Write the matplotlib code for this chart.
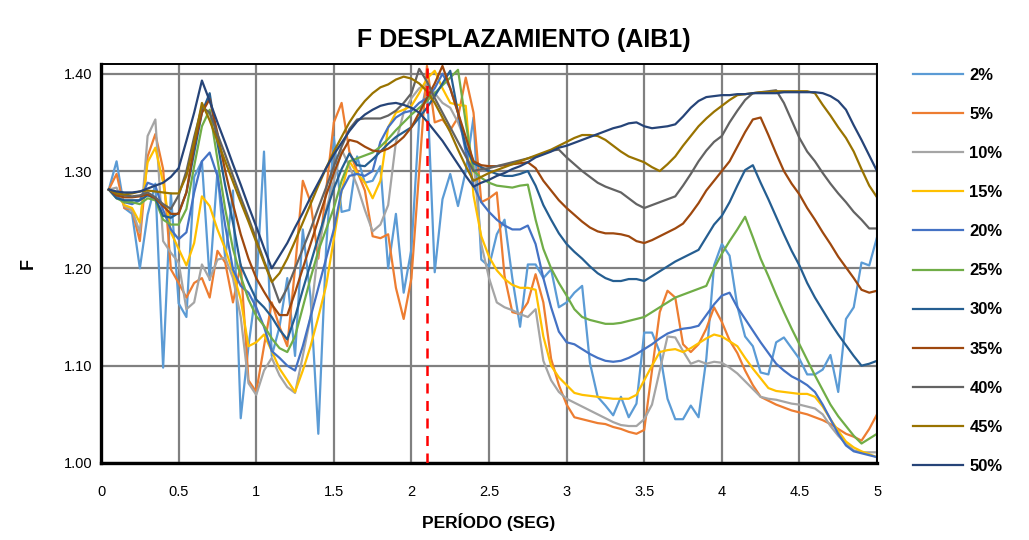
import matplotlib
matplotlib.use("Agg")
import matplotlib.pyplot as plt
import numpy as np

# periodos (seg) del espectro
periodo = np.round(np.arange(0.05, 5.0001, 0.05), 2)

f_2 = [1.281, 1.310, 1.262, 1.256, 1.200, 1.255, 1.287, 1.098, 1.277, 1.164, 1.150, 1.294, 1.310, 1.188, 1.300, 1.210, 1.280, 1.046, 1.120, 1.180,
       1.320, 1.110, 1.140, 1.190, 1.110, 1.240, 1.170, 1.030, 1.220, 1.335, 1.258, 1.260, 1.315, 1.288, 1.290, 1.305, 1.200, 1.256, 1.175, 1.220,
       1.353, 1.390, 1.196, 1.271, 1.297, 1.264, 1.300, 1.355, 1.209, 1.202, 1.235, 1.250, 1.190, 1.140, 1.204, 1.204, 1.190, 1.199, 1.160, 1.165,
       1.175, 1.182, 1.103, 1.068, 1.059, 1.049, 1.068, 1.047, 1.061, 1.134, 1.134, 1.114, 1.066, 1.045, 1.045, 1.059, 1.047, 1.107, 1.203, 1.225,
       1.213, 1.161, 1.130, 1.120, 1.093, 1.091, 1.124, 1.129, 1.118, 1.107, 1.091, 1.091, 1.096, 1.111, 1.073, 1.148, 1.160, 1.206, 1.203, 1.232]
f_5 = [1.281, 1.297, 1.262, 1.260, 1.228, 1.315, 1.338, 1.302, 1.199, 1.185, 1.170, 1.185, 1.190, 1.170, 1.218, 1.206, 1.165, 1.204, 1.085, 1.073,
       1.120, 1.165, 1.140, 1.120, 1.200, 1.290, 1.268, 1.210, 1.280, 1.350, 1.370, 1.320, 1.300, 1.280, 1.233, 1.231, 1.235, 1.180, 1.148, 1.190,
       1.300, 1.408, 1.350, 1.353, 1.342, 1.355, 1.396, 1.360, 1.268, 1.272, 1.278, 1.192, 1.155, 1.153, 1.165, 1.194, 1.165, 1.107, 1.080, 1.060,
       1.047, 1.045, 1.043, 1.041, 1.040, 1.037, 1.035, 1.032, 1.030, 1.034, 1.095, 1.155, 1.177, 1.170, 1.122, 1.114, 1.122, 1.138, 1.160, 1.145,
       1.126, 1.113, 1.095, 1.080, 1.068, 1.064, 1.060, 1.057, 1.054, 1.052, 1.050, 1.047, 1.044, 1.040, 1.035, 1.030, 1.027, 1.023, 1.035, 1.050]
f_10 = [1.281, 1.283, 1.264, 1.260, 1.237, 1.336, 1.353, 1.228, 1.216, 1.206, 1.158, 1.165, 1.204, 1.189, 1.209, 1.211, 1.190, 1.150, 1.082, 1.070,
        1.095, 1.108, 1.090, 1.078, 1.072, 1.110, 1.150, 1.220, 1.260, 1.290, 1.322, 1.305, 1.285, 1.260, 1.238, 1.245, 1.265, 1.330, 1.360, 1.375,
        1.385, 1.390, 1.380, 1.370, 1.365, 1.350, 1.330, 1.310, 1.225, 1.190, 1.165, 1.160, 1.157, 1.153, 1.150, 1.158, 1.105, 1.085, 1.073, 1.066,
        1.062, 1.058, 1.054, 1.050, 1.046, 1.042, 1.039, 1.038, 1.038, 1.045, 1.060, 1.095, 1.130, 1.129, 1.115, 1.102, 1.105, 1.102, 1.104, 1.103,
        1.098, 1.092, 1.084, 1.076, 1.068, 1.066, 1.065, 1.063, 1.061, 1.060, 1.058, 1.056, 1.050, 1.038, 1.028, 1.020, 1.013, 1.011, 1.011, 1.011]
f_15 = [1.281, 1.277, 1.265, 1.262, 1.247, 1.309, 1.324, 1.288, 1.237, 1.220, 1.203, 1.226, 1.274, 1.264, 1.240, 1.220, 1.196, 1.168, 1.120, 1.124,
        1.132, 1.115, 1.097, 1.085, 1.073, 1.095, 1.120, 1.150, 1.182, 1.230, 1.280, 1.310, 1.298, 1.288, 1.272, 1.290, 1.345, 1.360, 1.363, 1.367,
        1.380, 1.395, 1.403, 1.385, 1.370, 1.368, 1.367, 1.275, 1.233, 1.212, 1.198, 1.189, 1.183, 1.180, 1.180, 1.178, 1.130, 1.100, 1.088, 1.080,
        1.072, 1.070, 1.069, 1.068, 1.067, 1.066, 1.066, 1.066, 1.070, 1.085, 1.100, 1.114, 1.116, 1.117, 1.114, 1.118, 1.123, 1.128, 1.132, 1.130,
        1.125, 1.120, 1.108, 1.097, 1.087, 1.077, 1.074, 1.073, 1.072, 1.071, 1.071, 1.068, 1.058, 1.045, 1.033, 1.022, 1.016, 1.012, 1.009, 1.006]
f_20 = [1.281, 1.274, 1.268, 1.266, 1.270, 1.288, 1.285, 1.260, 1.240, 1.230, 1.237, 1.278, 1.310, 1.319, 1.295, 1.244, 1.199, 1.182, 1.175, 1.160,
        1.140, 1.115, 1.108, 1.100, 1.095, 1.120, 1.150, 1.180, 1.210, 1.240, 1.280, 1.295, 1.297, 1.295, 1.300, 1.330, 1.345, 1.355, 1.360, 1.362,
        1.370, 1.375, 1.385, 1.400, 1.385, 1.360, 1.320, 1.285, 1.268, 1.258, 1.250, 1.244, 1.240, 1.240, 1.244, 1.225, 1.190, 1.160, 1.135, 1.124,
        1.122, 1.117, 1.112, 1.108, 1.105, 1.104, 1.105, 1.108, 1.112, 1.117, 1.122, 1.128, 1.133, 1.136, 1.138, 1.139, 1.141, 1.152, 1.163, 1.172,
        1.175, 1.160, 1.148, 1.136, 1.124, 1.113, 1.102, 1.095, 1.089, 1.085, 1.080, 1.073, 1.060, 1.045, 1.030, 1.018, 1.012, 1.010, 1.008, 1.006]
f_25 = [1.281, 1.272, 1.268, 1.268, 1.266, 1.272, 1.270, 1.250, 1.245, 1.245, 1.261, 1.305, 1.346, 1.363, 1.312, 1.261, 1.220, 1.192, 1.168, 1.151,
        1.141, 1.128, 1.118, 1.114, 1.130, 1.160, 1.190, 1.218, 1.240, 1.262, 1.290, 1.310, 1.313, 1.316, 1.319, 1.325, 1.333, 1.342, 1.350, 1.358,
        1.365, 1.372, 1.380, 1.388, 1.396, 1.404, 1.350, 1.300, 1.293, 1.288, 1.285, 1.284, 1.283, 1.285, 1.286, 1.250, 1.220, 1.200, 1.185, 1.172,
        1.158, 1.150, 1.147, 1.145, 1.143, 1.143, 1.144, 1.146, 1.148, 1.150, 1.155, 1.160, 1.165, 1.170, 1.173, 1.176, 1.179, 1.182, 1.200, 1.215,
        1.228, 1.240, 1.253, 1.232, 1.210, 1.192, 1.173, 1.155, 1.138, 1.122, 1.106, 1.090, 1.075, 1.060, 1.048, 1.038, 1.028, 1.020, 1.025, 1.030]
f_30 = [1.281, 1.272, 1.270, 1.270, 1.270, 1.275, 1.272, 1.254, 1.252, 1.257, 1.278, 1.319, 1.360, 1.380, 1.329, 1.285, 1.247, 1.203, 1.185, 1.168,
        1.160, 1.150, 1.137, 1.127, 1.150, 1.178, 1.205, 1.232, 1.258, 1.282, 1.302, 1.318, 1.306, 1.305, 1.312, 1.320, 1.328, 1.335, 1.340, 1.345,
        1.355, 1.365, 1.377, 1.390, 1.403, 1.360, 1.325, 1.308, 1.304, 1.300, 1.297, 1.295, 1.295, 1.297, 1.300, 1.285, 1.265, 1.250, 1.236, 1.225,
        1.217, 1.210, 1.202, 1.195, 1.190, 1.187, 1.187, 1.189, 1.189, 1.187, 1.192, 1.197, 1.202, 1.207, 1.211, 1.215, 1.219, 1.232, 1.245, 1.254,
        1.268, 1.285, 1.301, 1.306, 1.288, 1.271, 1.253, 1.235, 1.218, 1.203, 1.185, 1.170, 1.157, 1.144, 1.132, 1.121, 1.110, 1.100, 1.102, 1.105]
f_35 = [1.281, 1.275, 1.273, 1.273, 1.274, 1.276, 1.272, 1.264, 1.256, 1.256, 1.278, 1.326, 1.360, 1.374, 1.339, 1.300, 1.266, 1.235, 1.210, 1.190,
        1.176, 1.163, 1.152, 1.152, 1.175, 1.200, 1.225, 1.250, 1.275, 1.298, 1.318, 1.332, 1.330, 1.325, 1.321, 1.320, 1.323, 1.328, 1.335, 1.345,
        1.360, 1.375, 1.390, 1.408, 1.385, 1.360, 1.335, 1.310, 1.306, 1.305, 1.305, 1.306, 1.307, 1.308, 1.309, 1.303, 1.290, 1.280, 1.270, 1.262,
        1.255, 1.248, 1.242, 1.238, 1.236, 1.236, 1.235, 1.233, 1.228, 1.226, 1.229, 1.233, 1.237, 1.241, 1.246, 1.256, 1.267, 1.280, 1.290, 1.300,
        1.310, 1.325, 1.340, 1.353, 1.355, 1.337, 1.318, 1.300, 1.287, 1.276, 1.262, 1.250, 1.237, 1.225, 1.212, 1.201, 1.190, 1.178, 1.175, 1.177]
f_40 = [1.281, 1.277, 1.275, 1.274, 1.275, 1.278, 1.273, 1.266, 1.261, 1.275, 1.300, 1.335, 1.366, 1.360, 1.338, 1.317, 1.295, 1.273, 1.252, 1.230,
        1.208, 1.187, 1.165, 1.180, 1.200, 1.220, 1.240, 1.262, 1.283, 1.305, 1.325, 1.343, 1.353, 1.354, 1.354, 1.354, 1.357, 1.362, 1.370, 1.380,
        1.405, 1.392, 1.375, 1.360, 1.345, 1.330, 1.315, 1.300, 1.302, 1.303, 1.305, 1.307, 1.309, 1.311, 1.313, 1.315, 1.318, 1.321, 1.322, 1.314,
        1.307, 1.300, 1.294, 1.288, 1.284, 1.281, 1.278, 1.272, 1.266, 1.262, 1.265, 1.268, 1.271, 1.274, 1.285, 1.297, 1.310, 1.321, 1.330, 1.336,
        1.350, 1.362, 1.373, 1.380, 1.381, 1.382, 1.383, 1.370, 1.352, 1.334, 1.320, 1.310, 1.298, 1.287, 1.277, 1.268, 1.258, 1.250, 1.241, 1.241]
f_45 = [1.281, 1.277, 1.276, 1.277, 1.279, 1.280, 1.279, 1.278, 1.277, 1.277, 1.295, 1.330, 1.370, 1.352, 1.331, 1.310, 1.289, 1.268, 1.248, 1.227,
        1.206, 1.186, 1.195, 1.210, 1.228, 1.247, 1.266, 1.285, 1.303, 1.320, 1.335, 1.350, 1.362, 1.372, 1.380, 1.386, 1.389, 1.394, 1.397, 1.395,
        1.390, 1.382, 1.370, 1.355, 1.340, 1.322, 1.305, 1.290, 1.294, 1.298, 1.301, 1.304, 1.307, 1.310, 1.313, 1.316, 1.319, 1.322, 1.326, 1.330,
        1.334, 1.337, 1.337, 1.336, 1.332, 1.326, 1.320, 1.315, 1.312, 1.309, 1.304, 1.300, 1.307, 1.315, 1.326, 1.336, 1.346, 1.354, 1.361, 1.367,
        1.373, 1.378, 1.379, 1.380, 1.381, 1.381, 1.382, 1.382, 1.382, 1.382, 1.382, 1.380, 1.368, 1.357, 1.345, 1.334, 1.320, 1.302, 1.285, 1.273]
f_50 = [1.281, 1.279, 1.278, 1.278, 1.279, 1.282, 1.285, 1.288, 1.294, 1.303, 1.331, 1.360, 1.393, 1.372, 1.350, 1.329, 1.307, 1.286, 1.264, 1.243,
        1.221, 1.200, 1.213, 1.226, 1.242, 1.257, 1.273, 1.288, 1.303, 1.317, 1.329, 1.341, 1.351, 1.358, 1.363, 1.367, 1.369, 1.370, 1.368, 1.365,
        1.360, 1.351, 1.341, 1.331, 1.319, 1.307, 1.295, 1.284, 1.288, 1.291, 1.295, 1.298, 1.302, 1.305, 1.309, 1.314, 1.317, 1.320, 1.324, 1.326,
        1.329, 1.332, 1.335, 1.338, 1.341, 1.344, 1.346, 1.349, 1.350, 1.346, 1.344, 1.345, 1.346, 1.348, 1.356, 1.365, 1.372, 1.376, 1.377, 1.378,
        1.378, 1.379, 1.379, 1.380, 1.380, 1.380, 1.380, 1.381, 1.381, 1.381, 1.381, 1.381, 1.380, 1.377, 1.372, 1.363, 1.347, 1.332, 1.316, 1.300]

etiquetas = ["2%", "5%", "10%", "15%", "20%", "25%", "30%", "35%", "40%", "45%", "50%"]
series = [f_2, f_5, f_10, f_15, f_20, f_25, f_30, f_35, f_40, f_45, f_50]
colores = ["#5B9BD5", "#ED7D31", "#A5A5A5", "#FFC000", "#4472C4", "#70AD47",
           "#255E91", "#9E480E", "#636363", "#997300", "#264478"]

periodo_ref = 2.1

plt.rcParams["font.family"] = ["Liberation Sans", "DejaVu Sans"]

fig = plt.figure(figsize=(10.29, 5.40), dpi=100)
ax = fig.add_axes([0.0982, 0.1426, 0.7541, 0.7389])

for vals, lab, col in zip(series, etiquetas, colores):
    ax.plot(periodo, vals, color=col, lw=1.6, label=lab)

ax.axvline(periodo_ref, color="#FF0000", lw=1.8, ls=(0, (4, 3)), zorder=5)

ax.set_xlim(0, 5)
ax.set_ylim(1.0, 1.41)
ax.set_xticks(np.arange(0, 5.01, 0.5))
ax.set_xticklabels(["0", "0.5", "1", "1.5", "2", "2.5", "3", "3.5", "4", "4.5", "5"])
ax.set_yticks([1.0, 1.1, 1.2, 1.3, 1.4])
ax.set_yticklabels(["1.00", "1.10", "1.20", "1.30", "1.40"])
ax.tick_params(length=0, labelsize=10.5)
ax.tick_params(axis="x", pad=16)
ax.tick_params(axis="y", pad=6)
ax.grid(True, color="#808080", lw=1.6)
ax.set_axisbelow(True)
for s in ["left", "bottom"]:
    ax.spines[s].set_linewidth(2.4)
for s in ["top", "right"]:
    ax.spines[s].set_linewidth(1.4)

# titulo centrado sobre todo el grafico
fig.text(0.509, 0.925, "F DESPLAZAMIENTO (AIB1)", fontsize=18, fontweight="bold",
         ha="center", va="center")
ax.set_xlabel("PERÍODO (SEG)", fontsize=12.5, fontweight="bold", labelpad=10)
ax.set_ylabel("F", fontsize=13, fontweight="bold", labelpad=20)

ax.legend(loc="upper left", bbox_to_anchor=(0.887, 0.875), bbox_transform=fig.transFigure,
          frameon=False, handlelength=3.0, handletextpad=0.4, labelspacing=1.45,
          borderpad=0, borderaxespad=0, prop={"weight": "bold", "size": 12})

fig.savefig("out.png", dpi=100)
